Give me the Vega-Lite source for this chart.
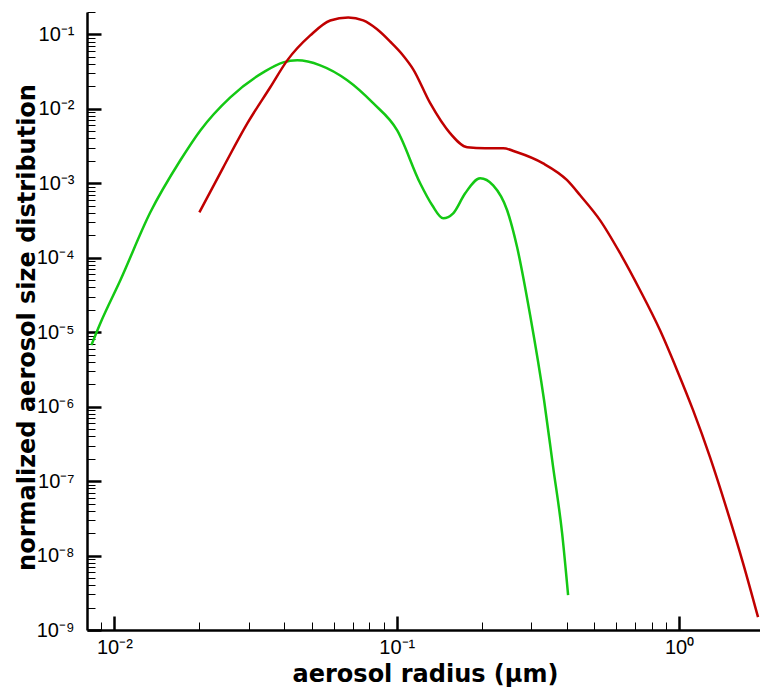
{
  "$schema": "https://vega.github.io/schema/vega-lite/v6.json",
  "autosize": {"type": "none"},
  "padding": {"left": 87, "top": 12, "right": 0, "bottom": 58},
  "width": 673,
  "height": 618,
  "background": "white",
  "config": {"view": {"stroke": null}},
  "data": {"values": [
    {"series": "g", "r": 0.00829, "n": 6.70e-6},
    {"series": "g", "r": 0.00892, "n": 1.32e-5},
    {"series": "g", "r": 0.01050, "n": 4.99e-5},
    {"series": "g", "r": 0.01341, "n": 4.08e-4},
    {"series": "g", "r": 0.01713, "n": 2.04e-3},
    {"series": "g", "r": 0.02016, "n": 5.14e-3},
    {"series": "g", "r": 0.02574, "n": 1.43e-2},
    {"series": "g", "r": 0.03368, "n": 3.09e-2},
    {"series": "g", "r": 0.03964, "n": 4.21e-2},
    {"series": "g", "r": 0.04444, "n": 4.48e-2},
    {"series": "g", "r": 0.05360, "n": 3.84e-2},
    {"series": "g", "r": 0.06681, "n": 2.42e-2},
    {"series": "g", "r": 0.08254, "n": 1.19e-2},
    {"series": "g", "r": 0.1004, "n": 5.14e-3},
    {"series": "g", "r": 0.1211, "n": 1.0e-3},
    {"series": "g", "r": 0.1336, "n": 5.07e-4},
    {"series": "g", "r": 0.1461, "n": 3.39e-4},
    {"series": "g", "r": 0.1585, "n": 3.95e-4},
    {"series": "g", "r": 0.1748, "n": 7.35e-4},
    {"series": "g", "r": 0.1975, "n": 1.17e-3},
    {"series": "g", "r": 0.2196, "n": 9.40e-4},
    {"series": "g", "r": 0.2461, "n": 4.35e-4},
    {"series": "g", "r": 0.2670, "n": 1.38e-4},
    {"series": "g", "r": 0.2969, "n": 1.69e-5},
    {"series": "g", "r": 0.3326, "n": 1.22e-6},
    {"series": "g", "r": 0.3581, "n": 1.54e-7},
    {"series": "g", "r": 0.3853, "n": 2.00e-8},
    {"series": "g", "r": 0.4046, "n": 2.95e-9},
    {"series": "r", "r": 0.0200, "n": 4.08e-4},
    {"series": "r", "r": 0.02431, "n": 1.64e-3},
    {"series": "r", "r": 0.02957, "n": 6.38e-3},
    {"series": "r", "r": 0.03566, "n": 1.95e-2},
    {"series": "r", "r": 0.04096, "n": 4.48e-2},
    {"series": "r", "r": 0.04941, "n": 9.69e-2},
    {"series": "r", "r": 0.05815, "n": 0.154},
    {"series": "r", "r": 0.06734, "n": 0.169},
    {"series": "r", "r": 0.07610, "n": 0.154},
    {"series": "r", "r": 0.08500, "n": 0.118},
    {"series": "r", "r": 0.09484, "n": 8.00e-2},
    {"series": "r", "r": 0.1050, "n": 5.30e-2},
    {"series": "r", "r": 0.1144, "n": 3.40e-2},
    {"series": "r", "r": 0.1314, "n": 1.19e-2},
    {"series": "r", "r": 0.1547, "n": 4.69e-3},
    {"series": "r", "r": 0.1777, "n": 3.04e-3},
    {"series": "r", "r": 0.2057, "n": 2.95e-3},
    {"series": "r", "r": 0.2382, "n": 2.95e-3},
    {"series": "r", "r": 0.2670, "n": 2.61e-3},
    {"series": "r", "r": 0.3301, "n": 1.85e-3},
    {"series": "r", "r": 0.4013, "n": 1.10e-3},
    {"series": "r", "r": 0.4463, "n": 6.90e-4},
    {"series": "r", "r": 0.5254, "n": 3.18e-4},
    {"series": "r", "r": 0.6183, "n": 1.15e-4},
    {"series": "r", "r": 0.7277, "n": 3.66e-5},
    {"series": "r", "r": 0.8564, "n": 1.06e-5},
    {"series": "r", "r": 0.9838, "n": 3.09e-6},
    {"series": "r", "r": 1.121, "n": 8.97e-7},
    {"series": "r", "r": 1.287, "n": 2.10e-7},
    {"series": "r", "r": 1.479, "n": 4.08e-8},
    {"series": "r", "r": 1.685, "n": 7.93e-9},
    {"series": "r", "r": 1.904, "n": 1.49e-9}
  ]},
  "mark": {"type": "line", "strokeWidth": 2.5, "interpolate": "monotone", "clip": true},
  "encoding": {
    "x": {
      "field": "r", "type": "quantitative",
      "scale": {"type": "log", "domain": [0.008, 1.935], "nice": false, "zero": false},
      "axis": {
        "values": [0.009, 0.01, 0.02, 0.03, 0.04, 0.05, 0.06, 0.07, 0.08, 0.09, 0.1, 0.2, 0.3, 0.4, 0.5, 0.6, 0.7, 0.8, 0.9, 1],
        "title": "aerosol radius (μm)",
        "titleFont": "DejaVu Sans", "titleFontSize": 24, "titleFontWeight": "bold", "titleColor": "black",
        "titleX": 338, "titleY": 51, "titleBaseline": "alphabetic", "titleAlign": "center",
        "labelFont": "Liberation Sans", "labelFontSize": 20, "labelColor": "black",
        "labelPadding": 21, "labelBaseline": "top", "labelAlign": "center", "labelFlush": false, "labelOverlap": false,
        "labelExpr": "abs(log(datum.value)/LN10 - round(log(datum.value)/LN10)) < 0.001 ? ['10⁻²','10⁻¹','10⁰'][round(log(datum.value)/LN10)+2] : ''",
        "grid": false,
        "domainColor": "black", "domainWidth": 2.5,
        "ticks": true,
        "tickColor": "black",
        "tickSize": {"condition": {"test": "abs(log(datum.value)/LN10 - round(log(datum.value)/LN10)) < 0.001", "value": -14}, "value": -8},
        "tickWidth": {"condition": {"test": "abs(log(datum.value)/LN10 - round(log(datum.value)/LN10)) < 0.001", "value": 2.5}, "value": 1}
      }
    },
    "y": {
      "field": "n", "type": "quantitative",
      "scale": {"type": "log", "domain": [1e-9, 0.2], "nice": false, "zero": false},
      "axis": {
        "values": [1e-9, 2e-9, 3e-9, 4e-9, 5e-9, 6e-9, 7e-9, 8e-9, 9e-9,
                   1e-8, 2e-8, 3e-8, 4e-8, 5e-8, 6e-8, 7e-8, 8e-8, 9e-8,
                   1e-7, 2e-7, 3e-7, 4e-7, 5e-7, 6e-7, 7e-7, 8e-7, 9e-7,
                   1e-6, 2e-6, 3e-6, 4e-6, 5e-6, 6e-6, 7e-6, 8e-6, 9e-6,
                   1e-5, 2e-5, 3e-5, 4e-5, 5e-5, 6e-5, 7e-5, 8e-5, 9e-5,
                   1e-4, 2e-4, 3e-4, 4e-4, 5e-4, 6e-4, 7e-4, 8e-4, 9e-4,
                   1e-3, 2e-3, 3e-3, 4e-3, 5e-3, 6e-3, 7e-3, 8e-3, 9e-3,
                   1e-2, 2e-2, 3e-2, 4e-2, 5e-2, 6e-2, 7e-2, 8e-2, 9e-2,
                   1e-1, 2e-1],
        "title": "normalized aerosol size distribution",
        "titleFont": "DejaVu Sans", "titleFontSize": 24, "titleFontWeight": "bold", "titleColor": "black",
        "titleX": -53, "titleY": 315, "titleAngle": -90, "titleBaseline": "alphabetic", "titleAlign": "center",
        "labelFont": "Liberation Sans", "labelFontSize": 20, "labelColor": "black",
        "labelPadding": 27, "labelBaseline": "middle", "labelAlign": "right", "labelFlush": false, "labelOverlap": false,
        "labelExpr": "abs(log(datum.value)/LN10 - round(log(datum.value)/LN10)) < 0.001 ? ['10⁻⁹','10⁻⁸','10⁻⁷','10⁻⁶','10⁻⁵','10⁻⁴','10⁻³','10⁻²','10⁻¹'][round(log(datum.value)/LN10)+9] : ''",
        "grid": false,
        "domainColor": "black", "domainWidth": 2.5,
        "ticks": true,
        "tickColor": "black",
        "tickSize": {"condition": {"test": "abs(log(datum.value)/LN10 - round(log(datum.value)/LN10)) < 0.001", "value": -14}, "value": -8},
        "tickWidth": {"condition": {"test": "abs(log(datum.value)/LN10 - round(log(datum.value)/LN10)) < 0.001", "value": 2.5}, "value": 1}
      }
    },
    "color": {
      "field": "series", "type": "nominal",
      "scale": {"domain": ["g", "r"], "range": ["#14c814", "#c00000"]},
      "legend": null
    }
  }
}
